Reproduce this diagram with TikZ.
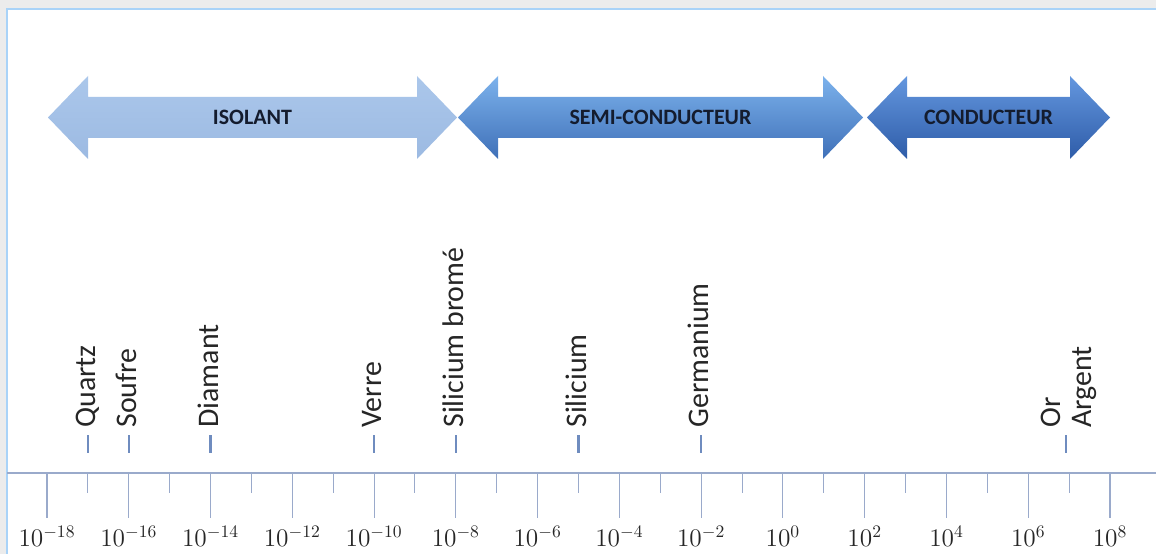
\documentclass[tikz,border=0pt]{standalone}
\usepackage{fontspec}
\newfontfamily\calib{Carlito}
\usetikzlibrary{positioning}
\definecolor{pagegray}{HTML}{ECECEC}
\definecolor{frameblue}{HTML}{A9D3F8}
\definecolor{isoTop}{HTML}{ABC7EB}
\definecolor{isoBot}{HTML}{9CBAE2}
\definecolor{semiTop}{HTML}{7CB2EC}
\definecolor{semiBot}{HTML}{3F70B8}
\definecolor{condTop}{HTML}{6497DF}
\definecolor{condBot}{HTML}{2E5CA8}
\definecolor{navytxt}{HTML}{141C2E}
\definecolor{darktxt}{HTML}{262626}
\definecolor{axisblue}{HTML}{9AAACB}
\definecolor{markblue}{HTML}{6F8CBF}

\begin{document}
\begin{tikzpicture}[x=0.02cm, y=0.02cm,
  bandtext/.style={font=\calib\bfseries\fontsize{12.5}{14}\selectfont, text=navytxt},
  material/.style={rotate=90, anchor=mid west, inner sep=0pt, font=\calib\fontsize{17}{18}\selectfont, text=darktxt},
  marker/.style={draw=markblue, line width=1.3pt},
  tick/.style={draw=axisblue, line width=0.6pt},
  decade/.style={anchor=base, text=darktxt, font=\fontsize{13.8}{16}\selectfont}]
  \useasboundingbox (0,0) rectangle (1156,554);

  % Frame of the page
  \fill[pagegray] (0,0) rectangle (1156,554);
  \fill[white] (7,0) rectangle (1156,545);
  \draw[frameblue, line width=1.6pt] (7,0) -- (7,545) -- (1156,545);

  % Double arrows for the three classes
  \foreach \xl/\xr/\ctop/\cbot/\name/\txt in {48/457/isoTop/isoBot/iso/ISOLANT, 458/863/semiTop/semiBot/semi/SEMI-CONDUCTEUR, 867/1110/condTop/condBot/cond/CONDUCTEUR} {
    \path[top color=\ctop, bottom color=\cbot]
      (\xl,436.5) -- (\xl+40,478) -- (\xl+40,457) -- (\xr-40,457) -- (\xr-40,478)
      -- (\xr,436.5) -- (\xr-40,395) -- (\xr-40,416) -- (\xl+40,416) -- (\xl+40,395) -- cycle;
    \node[bandtext] (\name) at ({(\xl+\xr)/2},436.5) {\txt};
  }

  % Axis and ticks
  \draw[draw=axisblue, line width=0.9pt] (7,81) -- (1156,81);
  \foreach \k in {-18,-16,...,8} {
    \draw[tick] ({47+40.885*(\k+18)},81) -- ({47+40.885*(\k+18)},36);
    \node[decade] (dec\k) at ({47+40.885*(\k+18)},7) {$10^{\k}$};
  }
  \foreach \k in {-17,-15,...,7} {
    \draw[tick] ({47+40.885*(\k+18)},81) -- ({47+40.885*(\k+18)},61);
  }

  % Materials
  \foreach \k/\name/\txt in {-17/quartz/Quartz, -16/soufre/Soufre, -14/diamant/Diamant, -10/verre/Verre, -8/sibrome/Silicium bromé, -5/silicium/Silicium, -2/germanium/Germanium} {
    \draw[marker] ({47+40.885*(\k+18)},101) -- ({47+40.885*(\k+18)},119);
    \node[material] (\name) at ({51+40.885*(\k+18)},126) {\txt};
  }
  \draw[marker] (1066,101) -- (1066,119);
  \node[material, anchor=west, align=left] (orargent) at (1069,126) {Or\\Argent};
\end{tikzpicture}
\end{document}
